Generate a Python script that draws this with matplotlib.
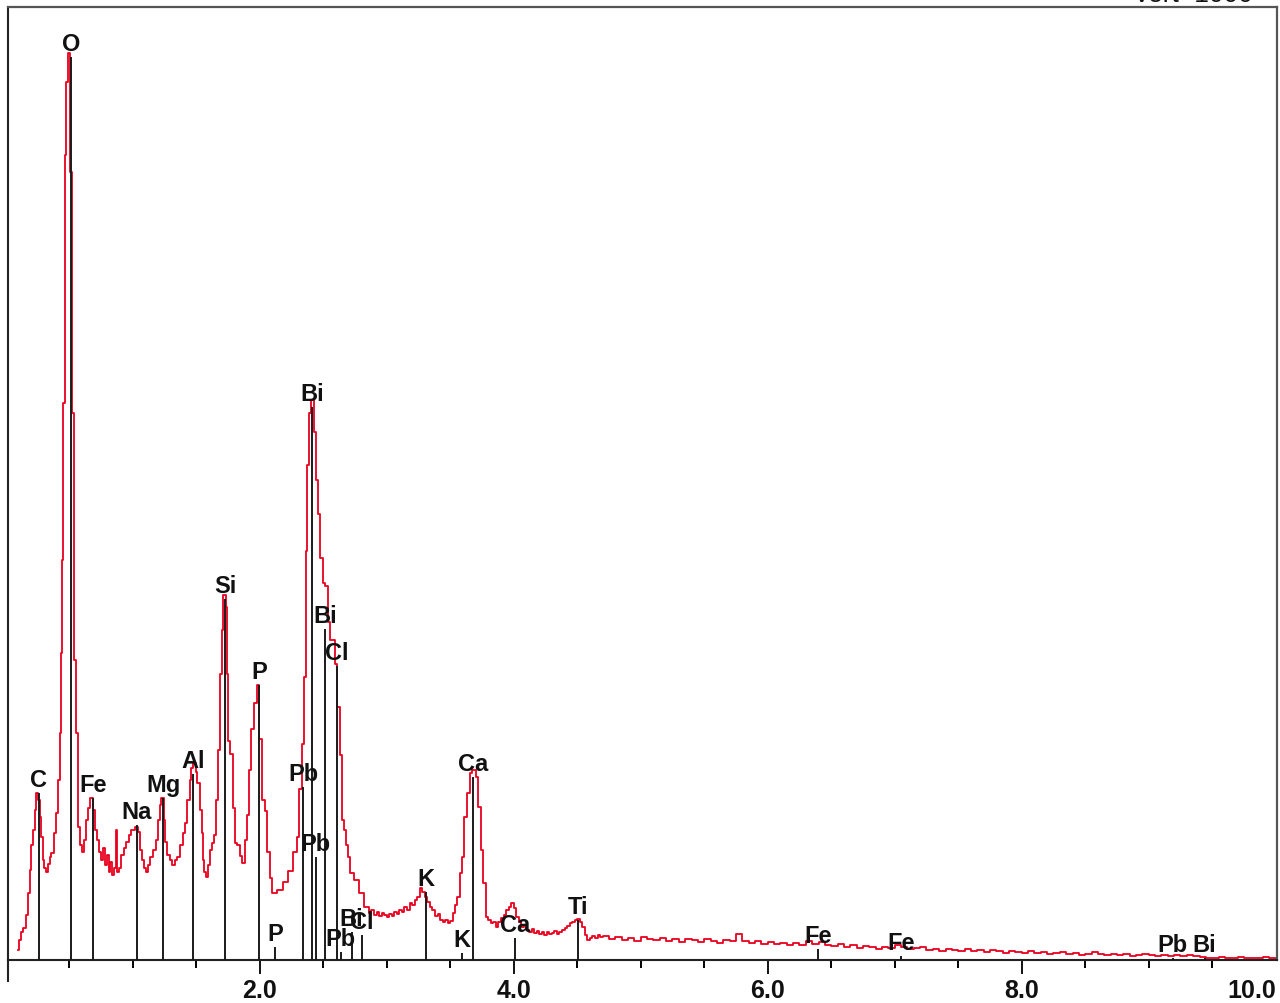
import matplotlib
import numpy as np

matplotlib.use("Agg")
import matplotlib.pyplot as plt

# EDS spectrum: channel start (keV) and counts (step drawn)
energy_kev = [
    0.095, 0.105, 0.120, 0.140, 0.160, 0.176, 0.190, 0.199, 0.215, 0.228,
    0.240, 0.258, 0.268, 0.280, 0.295, 0.305, 0.318, 0.330, 0.345, 0.360,
    0.380, 0.395, 0.410, 0.425, 0.437, 0.447, 0.455, 0.463, 0.478, 0.493,
    0.508, 0.524, 0.540, 0.556, 0.572, 0.585, 0.600, 0.615, 0.632, 0.648,
    0.660, 0.690, 0.705, 0.720, 0.735, 0.750, 0.765, 0.780, 0.795, 0.810,
    0.825, 0.840, 0.855, 0.868, 0.878, 0.895, 0.910, 0.930, 0.950, 0.970,
    0.990, 1.015, 1.040, 1.058, 1.075, 1.090, 1.105, 1.120, 1.140, 1.160,
    1.180, 1.200, 1.215, 1.225, 1.245, 1.258, 1.272, 1.290, 1.310, 1.330,
    1.350, 1.375, 1.395, 1.415, 1.430, 1.450, 1.462, 1.475, 1.495, 1.510,
    1.530, 1.542, 1.552, 1.565, 1.580, 1.595, 1.610, 1.625, 1.640, 1.656,
    1.672, 1.688, 1.703, 1.711, 1.735, 1.743, 1.750, 1.766, 1.790, 1.806,
    1.822, 1.846, 1.861, 1.885, 1.900, 1.915, 1.935, 1.955, 1.975, 1.998,
    2.015, 2.040, 2.060, 2.080, 2.100, 2.140, 2.180, 2.220, 2.260, 2.290,
    2.310, 2.330, 2.348, 2.364, 2.376, 2.388, 2.400, 2.428, 2.444, 2.455,
    2.475, 2.495, 2.515, 2.534, 2.555, 2.590, 2.610, 2.630, 2.650, 2.665,
    2.680, 2.695, 2.710, 2.740, 2.780, 2.820, 2.860, 2.880, 2.900, 2.920,
    2.940, 2.960, 2.980, 3.000, 3.020, 3.040, 3.060, 3.080, 3.100, 3.120,
    3.140, 3.160, 3.180, 3.200, 3.220, 3.240, 3.260, 3.280, 3.300, 3.320,
    3.340, 3.360, 3.380, 3.400, 3.420, 3.440, 3.460, 3.480, 3.500, 3.520,
    3.540, 3.555, 3.575, 3.595, 3.612, 3.630, 3.655, 3.672, 3.705, 3.715,
    3.740, 3.760, 3.780, 3.800, 3.820, 3.840, 3.860, 3.880, 3.900, 3.920,
    3.940, 3.960, 3.980, 4.000, 4.020, 4.040, 4.060, 4.080, 4.100, 4.120,
    4.140, 4.160, 4.180, 4.200, 4.220, 4.240, 4.260, 4.280, 4.300, 4.320,
    4.340, 4.360, 4.380, 4.400, 4.420, 4.440, 4.460, 4.480, 4.500, 4.520,
    4.540, 4.560, 4.580, 4.600, 4.620, 4.640, 4.660, 4.680,
]
counts = [
    10, 20, 28, 32, 45, 67, 90, 115, 130, 150,
    167, 160, 143, 123, 100, 92, 88, 96, 103, 107,
    127, 147, 180, 227, 307, 400, 557, 805, 878, 907,
    788, 547, 300, 227, 133, 115, 108, 120, 140, 152,
    162, 150, 130, 120, 108, 100, 112, 95, 105, 88,
    98, 85, 92, 130, 88, 92, 105, 112, 118, 125,
    130, 133, 128, 110, 100, 92, 88, 95, 103, 110,
    120, 140, 155, 162, 140, 118, 105, 100, 95, 100,
    103, 115, 127, 137, 160, 180, 192, 197, 188, 177,
    150, 127, 100, 88, 83, 95, 110, 117, 125, 160,
    210, 286, 330, 365, 353, 286, 219, 206, 152, 117,
    115, 104, 97, 120, 145, 190, 231, 257, 275, 221,
    160, 149, 108, 82, 67, 70, 78, 89, 108, 123,
    171, 216, 283, 409, 495, 547, 560, 528, 480, 446,
    402, 377, 374, 338, 320, 296, 253, 205, 140, 130,
    115, 103, 87, 80, 67, 53, 47, 50, 45, 48,
    44, 47, 45, 43, 46, 44, 48, 46, 50, 48,
    53, 50, 57, 55, 60, 63, 72, 68, 63, 58,
    53, 50, 44, 46, 40, 38, 40, 37, 39, 47,
    55, 63, 87, 103, 143, 167, 187, 190, 183, 153,
    110, 77, 43, 40, 37, 38, 33, 38, 42, 45,
    50, 53, 57, 52, 43, 38, 33, 35, 30, 28,
    31, 27, 29, 26, 28, 25, 28, 26, 27, 29,
    26, 28, 30, 32, 34, 37, 38, 40, 41, 38,
    33, 25, 20, 22, 24, 22, 25, 23,
]
# high-energy tail, one value every 0.05 keV from 4.70 to 10.00 keV
tail_counts = [
    24, 21, 23, 20, 22, 19, 23, 21, 20, 22,
    19, 21, 18, 21, 20, 18, 21, 19, 17, 20,
    19, 26, 19, 17, 19, 16, 18, 16, 17, 15,
    17, 15, 19, 16, 18, 15, 14, 16, 13, 15,
    12, 14, 13, 11, 13, 12, 15, 13, 11, 12,
    13, 10, 11, 9, 11, 10, 9, 11, 9, 10,
    8, 10, 9, 7, 9, 8, 7, 9, 7, 8,
    6, 7, 8, 6, 7, 5, 6, 8, 6, 5,
    6, 5, 6, 4, 5, 6, 5, 4, 5, 4,
    5, 4, 5, 4, 3, 2, 2, 3, 2, 2,
    3, 2, 2, 2, 3, 2, 2,
]
tail_kev = np.round(4.70 + 0.05 * np.arange(len(tail_counts)), 2)

# element identification lines
marker_labels = ["C", "O", "Fe", "Na", "Mg", "Al", "Si", "P", "P", "Pb",
                 "Bi", "Pb", "Bi", "Cl", "Pb", "Bi", "Cl", "K", "K", "Ca",
                 "Ca", "Ti", "Fe", "Fe", "Pb", "Bi"]
marker_kev = [0.262, 0.512, 0.685, 1.034, 1.241, 1.475, 1.727, 1.994, 2.120, 2.343,
              2.410, 2.440, 2.514, 2.606, 2.638, 2.724, 2.803, 3.309, 3.590, 3.682,
              4.013, 4.504, 6.396, 7.050, 9.190, 9.440]
marker_height = [167, 903, 162, 135, 162, 186, 361, 275, 13, 173,
                 553, 103, 331, 294, 8, 28, 25, 68, 7, 183,
                 22, 40, 11, 4, 2, 2]

tick_kev = [2.0, 4.0, 6.0, 8.0, 10.0]
tick_text = ["2.0", "4.0", "6.0", "8.0", "10.0"]
minor_kev = [0.5, 1.0, 1.5, 2.5, 3.0, 3.5, 4.5, 5.0, 5.5, 6.5, 7.0, 7.5, 8.5, 9.0, 9.5]

W, H = 1280, 1004
fig = plt.figure(figsize=(W / 100, H / 100), dpi=100)
ax = fig.add_axes([8 / W, 1 - 961 / H, 1269 / W, 953 / H])

x_all = list(energy_kev) + list(tail_kev)
y_all = list(counts) + list(tail_counts)
ax.plot(x_all, y_all, drawstyle="steps-post", color="#e8001c", lw=1.3, zorder=2)

ax.vlines(marker_kev, 0, marker_height, color="#1a1a1a", lw=1.4, zorder=3)
for lab, xk, hk in zip(marker_labels, marker_kev, marker_height):
    ax.annotate(lab, (xk, hk), xytext=(0, 5), textcoords="offset points",
                ha="center", va="baseline", fontsize=17, fontweight="bold",
                color="#111111", family="Liberation Sans", zorder=4)

ax.set_xlim(0.018, 10.01)
ax.set_ylim(0, 953)
ax.set_yticks([])
ax.set_xticks(tick_kev)
ax.set_xticklabels(tick_text)
ax.set_xticks(minor_kev, minor=True)
ax.tick_params(axis="x", which="major", length=10, width=1.4, pad=3,
               labelsize=18, colors="#111111")
ax.tick_params(axis="x", which="minor", length=5.8, width=1.4)
for lbl in ax.get_xticklabels():
    lbl.set_fontweight("bold")
    lbl.set_family("Liberation Sans")
# last label sits against the right edge, no tick drawn there
ax.get_xticklabels()[-1].set_horizontalalignment("right")
ax.xaxis.get_major_ticks()[-1].tick1line.set_visible(False)

for side in ["top", "right"]:
    ax.spines[side].set_color("#555555")
    ax.spines[side].set_linewidth(1.6)
for side in ["left", "bottom"]:
    ax.spines[side].set_color("#222222")
    ax.spines[side].set_linewidth(1.5)

# left spine runs on below the axis line
ax.plot([0.018, 0.018], [0, -21], color="#222222", lw=1.5, clip_on=False)

# header text cut off at the top edge
fig.text(1133 / W, 1 - 1.5 / H, "Vert=1000", ha="left", va="baseline",
         fontsize=19, family="Liberation Sans", color="#111111")

fig.savefig("out.png", dpi=100)
